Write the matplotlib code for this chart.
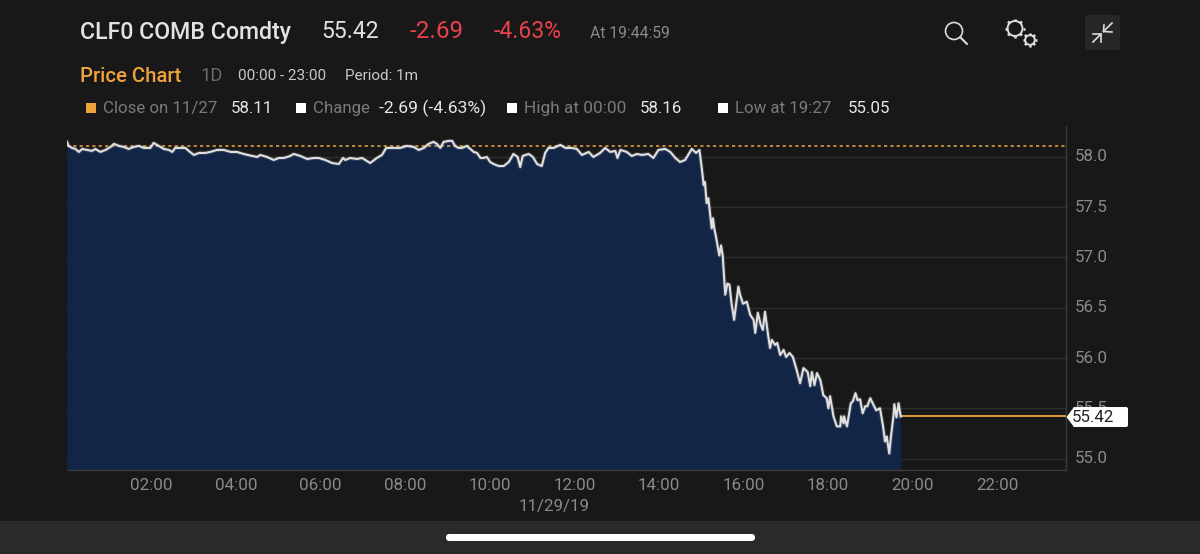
import numpy as np
import matplotlib
matplotlib.use("Agg")
import matplotlib.pyplot as plt
from matplotlib.patches import Circle, FancyBboxPatch, Polygon, Rectangle

plt.rcParams["font.family"] = ["Roboto", "DejaVu Sans"]

hours = [
    0.00, 0.04, 0.12, 0.20, 0.28, 0.36, 0.48, 0.59, 0.67, 0.79, 0.91, 1.03, 1.11, 1.23, 1.34, 1.46,
    1.58, 1.70, 1.82, 1.97, 2.05, 2.17, 2.29, 2.41, 2.49, 2.56, 2.68, 2.80, 2.88, 3.00, 3.12, 3.27,
    3.39, 3.55, 3.71, 3.87, 4.02, 4.18, 4.38, 4.50, 4.57, 4.73, 4.89, 5.01, 5.13, 5.28, 5.36, 5.52,
    5.68, 5.84, 5.95, 6.11, 6.27, 6.43, 6.53, 6.58, 6.70, 6.86, 6.98, 7.17, 7.33, 7.45, 7.55, 7.73,
    7.88, 8.04, 8.20, 8.32, 8.44, 8.55, 8.67, 8.75, 8.83, 8.91, 9.03, 9.11, 9.18, 9.26, 9.34, 9.46,
    9.54, 9.62, 9.70, 9.78, 9.85, 9.93, 10.01, 10.09, 10.21, 10.33, 10.45, 10.56, 10.66, 10.72, 10.78,
    10.92, 11.02, 11.12, 11.23, 11.31, 11.39, 11.51, 11.67, 11.79, 11.94, 12.06, 12.18, 12.34, 12.45,
    12.61, 12.73, 12.85, 12.97, 13.02, 13.09, 13.24, 13.36, 13.48, 13.60, 13.75, 13.87, 13.99, 14.15,
    14.27, 14.39, 14.50, 14.62, 14.78, 14.88, 14.96, 15.02, 15.06, 15.09, 15.13, 15.17, 15.25, 15.28,
    15.31, 15.35, 15.43, 15.47, 15.51, 15.57, 15.62, 15.67, 15.72, 15.78, 15.88, 15.92, 15.99, 16.08,
    16.16, 16.24, 16.28, 16.34, 16.41, 16.46, 16.51, 16.59, 16.63, 16.67, 16.75, 16.80, 16.87, 16.95,
    17.01, 17.09, 17.17, 17.26, 17.34, 17.42, 17.52, 17.58, 17.62, 17.68, 17.74, 17.82, 17.89, 17.97,
    18.01, 18.05, 18.13, 18.21, 18.29, 18.31, 18.37, 18.38, 18.45, 18.54, 18.59, 18.65, 18.70, 18.76,
    18.82, 18.88, 18.93, 19.00, 19.08, 19.14, 19.23, 19.30, 19.35, 19.39, 19.45, 19.49, 19.55, 19.57,
    19.62, 19.67, 19.72,
]
prices = [
    58.15, 58.11, 58.09, 58.08, 58.05, 58.08, 58.07, 58.06, 58.08, 58.05, 58.07, 58.10, 58.13, 58.11, 58.10, 58.08,
    58.10, 58.11, 58.09, 58.09, 58.14, 58.11, 58.08, 58.07, 58.05, 58.09, 58.09, 58.09, 58.06, 58.02, 58.04, 58.04,
    58.05, 58.07, 58.07, 58.05, 58.05, 58.03, 58.01, 58.00, 58.02, 58.00, 57.97, 57.99, 57.99, 58.01, 58.03, 58.01,
    57.98, 57.99, 57.99, 57.97, 57.94, 57.93, 57.99, 57.97, 57.99, 57.98, 57.99, 57.94, 57.99, 58.02, 58.09, 58.09,
    58.09, 58.11, 58.10, 58.07, 58.09, 58.13, 58.15, 58.13, 58.09, 58.15, 58.16, 58.16, 58.11, 58.09, 58.09, 58.11,
    58.08, 58.05, 58.04, 57.99, 57.99, 58.00, 57.95, 57.93, 57.91, 57.91, 57.95, 58.03, 58.00, 57.90, 58.01,
    58.03, 58.00, 57.93, 57.91, 58.04, 58.09, 58.09, 58.12, 58.09, 58.09, 58.08, 58.02, 58.05, 58.00,
    58.04, 58.09, 58.05, 58.06, 57.99, 58.07, 58.05, 58.01, 58.03, 58.02, 58.03, 57.99, 58.07, 58.08,
    58.05, 57.99, 57.95, 57.97, 58.08, 58.04, 58.07, 57.87, 57.72, 57.75, 57.54, 57.59, 57.29, 57.39,
    57.29, 57.21, 57.02, 57.12, 57.02, 56.63, 56.74, 56.73, 56.54, 56.38, 56.71, 56.63, 56.54, 56.56,
    56.43, 56.38, 56.25, 56.45, 56.33, 56.28, 56.46, 56.21, 56.10, 56.18, 56.13, 56.15, 56.03, 56.08,
    56.01, 56.05, 56.01, 55.88, 55.75, 55.90, 55.86, 55.72, 55.86, 55.73, 55.85, 55.78, 55.63, 55.60,
    55.50, 55.62, 55.42, 55.32, 55.32, 55.42, 55.35, 55.42, 55.32, 55.55, 55.57, 55.65, 55.58, 55.59,
    55.45, 55.52, 55.52, 55.60, 55.53, 55.48, 55.50, 55.33, 55.17, 55.22, 55.05, 55.22, 55.43, 55.54,
    55.41, 55.55, 55.42,
]
prev_close = 58.11
last_price = 55.42
x_ticks = [2, 4, 6, 8, 10, 12, 14, 16, 18, 20, 22]
x_labels = ["02:00", "04:00", "06:00", "08:00", "10:00", "12:00", "14:00", "16:00", "18:00", "20:00", "22:00"]
y_ticks = [55.0, 55.5, 56.0, 56.5, 57.0, 57.5, 58.0]

BG = "#181818"
NAVY = "#12264A"
GRID = "#2D2D2D"
GREY = "#8A8A8A"
ORANGE = "#F0A23C"
WHITE = "#E0E0E0"
RED = "#E8414B"

W, H = 1200, 554
fig = plt.figure(figsize=(W / 100, H / 100), dpi=100, facecolor=BG)

# Price panel
L, R, T, B = 67, 1066, 126, 470
ax = fig.add_axes([L / W, 1 - B / H, (R - L) / W, (B - T) / H], facecolor=BG)
ax.set_xlim(0, 23.63)
ax.set_ylim(54.886, 58.308)
ax.set_yticks(y_ticks)
ax.set_yticklabels([f"{v:.1f}" for v in y_ticks], va="center")
ax.set_xticks(x_ticks)
ax.set_xticklabels(x_labels)
ax.yaxis.tick_right()
ax.tick_params(axis="both", length=0, labelcolor=GREY, labelsize=12.2)
ax.tick_params(axis="y", pad=6)
ax.tick_params(axis="x", pad=6)
ax.grid(axis="y", color=GRID, lw=1.0, zorder=1)
ax.set_axisbelow(True)
for side, spine in ax.spines.items():
    spine.set_visible(side in ("right", "bottom"))
    spine.set_color("#3A3A3A")
    spine.set_linewidth(1.0)

ax.fill_between(hours, prices, 54.886, color=NAVY, alpha=0.94, lw=0, zorder=2)
ax.plot(hours, prices, color=WHITE, lw=3.0, alpha=0.16, solid_joinstyle="round", zorder=4)
ax.plot(hours, prices, color=WHITE, lw=1.5, solid_joinstyle="round", zorder=4)
ax.axhline(prev_close, color="#DE9A40", lw=1.2, ls=(0, (1.9, 1.9)), zorder=3)
ax.plot([hours[-1], 23.63], [last_price, last_price], color=ORANGE, lw=1.3, zorder=3)
ax.text(11.53, -0.105, "11/29/19", transform=ax.get_xaxis_transform(), color=GREY,
        fontsize=12.2, ha="center", va="center")

# Overlay in pixel units for the header, icons and price flag
ov = fig.add_axes([0, 0, 1, 1], facecolor="none")
ov.set_xlim(0, W)
ov.set_ylim(H, 0)
ov.axis("off")


def label(x, y, s, color, size, **kw):
    ov.text(x, y, s, color=color, fontsize=size, va="center", ha="left", **kw)


label(80, 32, "CLF0 COMB Comdty", "#E2E2E2", 16.7, fontweight="medium")
label(321, 32, "55.42", "#E2E2E2", 16.6)
label(409, 32, "-2.69", RED, 17.4)
label(494, 32, "-4.63%", RED, 16.6)
label(590, 34, "At 19:44:59", GREY, 11.3)
label(80, 76, "Price Chart", ORANGE, 14.6, fontweight="medium")
label(201, 76, "1D", "#6A6A6A", 13.2)
label(238, 76, "00:00 - 23:00", "#C8C8C8", 11.0)
label(345, 76, "Period: 1m", "#C8C8C8", 11.0)

row = 108
for x, c in [(86, ORANGE), (296, "white"), (507, "white"), (718, "white")]:
    ov.add_patch(Rectangle((x, row - 5), 10, 10, color=c, lw=0))
text_row = row + 0.7
label(103, text_row, "Close on 11/27", "#7A7A7A", 12.2)
label(231, text_row, "58.11", "#E6E6E6", 12.2)
label(313, text_row, "Change", "#7A7A7A", 12.2)
label(379, text_row, "-2.69 (-4.63%)", "#E6E6E6", 12.6)
label(524, text_row, "High at 00:00", "#7A7A7A", 12.4)
label(640, text_row, "58.16", "#E6E6E6", 12.2)
label(735, text_row, "Low at 19:27", "#7A7A7A", 12.2)
label(848, text_row, "55.05", "#E6E6E6", 12.2)

# Search icon
ov.add_patch(Circle((954, 31), 8.5, fill=False, ec="#DDDDDD", lw=1.2))
ov.plot([960, 967], [37, 44], color="#DDDDDD", lw=1.5, solid_capstyle="round")


def gear(cx, cy, r, teeth):
    ov.add_patch(Circle((cx, cy), r, fill=False, ec="#DDDDDD", lw=1.4))
    for a in np.linspace(0, 2 * np.pi, teeth, endpoint=False):
        ov.plot([cx + r * np.cos(a), cx + (r + 2.4) * np.cos(a)],
                [cy + r * np.sin(a), cy + (r + 2.4) * np.sin(a)],
                color="#DDDDDD", lw=1.9, solid_capstyle="butt")


gear(1015, 28.5, 7.5, 8)
gear(1030, 40, 4.8, 8)

# Collapse button
ov.add_patch(FancyBboxPatch((1085, 15), 35, 35, boxstyle="round,pad=0,rounding_size=3",
                            fc="#272727", ec="none"))
for x0, y0, x1, y1, c1, c2 in [(1112, 23, 1103.5, 31.5, (1104, 25), (1112, 32)),
                               (1093, 42, 1101, 34, (1093, 34), (1101, 42))]:
    ov.plot([x0, x1], [y0, y1], color="#DDDDDD", lw=1.2)
    ov.plot([c1[0], x1, c2[0]], [c1[1], y1, c2[1]], color="#DDDDDD", lw=1.2)

# Last price flag, placed from the value on the price scale
flag_y = ov.transData.inverted().transform(ax.transData.transform((0, last_price)))[1] + 0.7
ov.add_patch(FancyBboxPatch((1073, flag_y - 10), 55, 20, boxstyle="round,pad=0,rounding_size=2",
                            fc="white", ec="none", zorder=5))
ov.add_patch(Polygon([(1066.5, flag_y), (1074, flag_y - 10), (1074, flag_y + 10)], closed=True,
                     fc="white", ec="none", zorder=5))
ov.text(1072, flag_y, f"{last_price:.2f}", color="#222222", fontsize=12.2, va="center", ha="left", zorder=6)

# Bottom system bar and home indicator
ov.add_patch(Rectangle((0, 521), W, 33, color="#2A2A2A", lw=0))
ov.add_patch(FancyBboxPatch((446, 534), 309, 7, boxstyle="round,pad=0,rounding_size=3.5",
                            fc="white", ec="none"))

fig.savefig("out.png", dpi=100, facecolor=BG)
